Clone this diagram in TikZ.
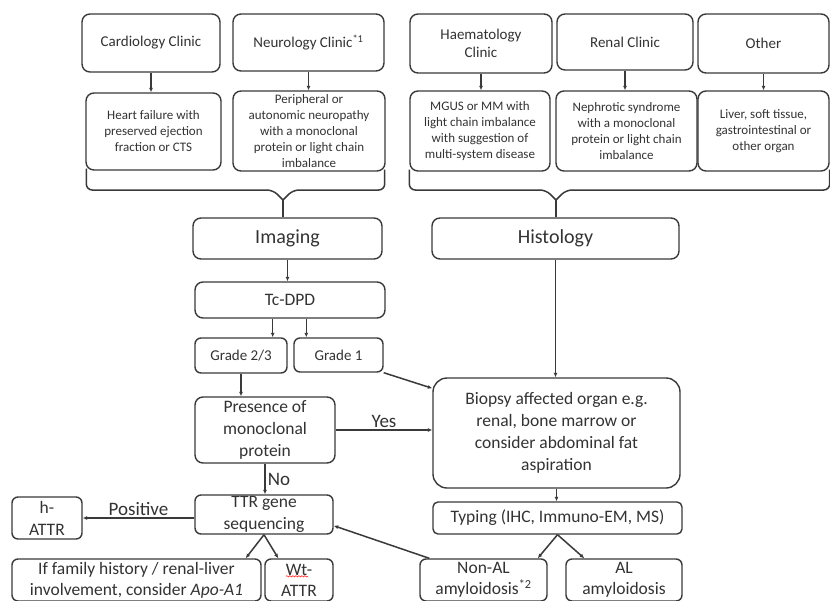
\documentclass[tikz,border=0pt]{standalone}
\usepackage{fontspec}
\setmainfont{Carlito}
\usetikzlibrary{arrows.meta,calc,decorations.pathmorphing}
\definecolor{ln}{HTML}{3A3A3A}
\definecolor{tx}{HTML}{333333}

\begin{document}
\begin{tikzpicture}[x=1pt,y=-1pt]
      \tikzstyle{box}=[draw=ln,line width=1.4pt,rounded corners=8pt,text=tx,align=center,inner sep=0pt]
      \tikzstyle{clinic}=[box,font=\fontsize{15}{18}\selectfont]
      \tikzstyle{cond}=[box,font=\fontsize{13}{16}\selectfont]
      \tikzstyle{big}=[box,font=\fontsize{20}{24}\selectfont]
      \tikzstyle{mid}=[box,font=\fontsize{17.5}{22}\selectfont]
      \tikzstyle{low}=[box,rounded corners=6pt,font=\fontsize{17.5}{21}\selectfont]
      \tikzstyle{grade}=[box,rounded corners=6pt,font=\fontsize{15}{18}\selectfont]
      \tikzstyle{lbl}=[text=tx,inner sep=2pt,font=\fontsize{19}{22}\selectfont]
      \tikzstyle{arr}=[draw=ln,line width=1.5pt,-{Latex[length=4.5pt,width=4pt]}]
      \tikzstyle{brace}=[draw=ln,line width=1.5pt,rounded corners=6pt]
      \useasboundingbox[fill=white] (0,0) rectangle (830,600);
      \clip (0,0) rectangle (830,600);
      \node[clinic,minimum width=138pt,minimum height=58pt] (card) at (151,43) {Cardiology Clinic};
      \node[clinic,minimum width=151pt,minimum height=57pt] (neuro) at (308.5,42.5) {Neurology Clinic\textsuperscript{*1}};
      \node[clinic,minimum width=142pt,minimum height=59pt] (haem) at (481,43.5) {Haematology\\Clinic};
      \node[clinic,minimum width=136pt,minimum height=56pt] (renal) at (625,42) {Renal Clinic};
      \node[clinic,minimum width=131pt,minimum height=59pt] (other) at (763.5,43.5) {Other};
      \node[cond,minimum width=135pt,minimum height=77pt] (hf) at (153.5,131.5) {Heart failure with\\preserved ejection\\fraction or CTS};
      \node[cond,minimum width=152pt,minimum height=80pt] (neuropathy) at (309,131) {Peripheral or\\autonomic neuropathy\\with a monoclonal\\protein or light chain\\imbalance};
      \node[cond,minimum width=140pt,minimum height=80pt] (mgus) at (480,131) {MGUS or MM with\\light chain imbalance\\with suggestion of\\multi-system disease};
      \node[cond,minimum width=141pt,minimum height=80pt] (nephro) at (626.5,131) {Nephrotic syndrome\\with a monoclonal\\protein or light chain\\imbalance};
      \node[cond,minimum width=131pt,minimum height=80pt] (organ) at (763.5,131) {Liver, soft tissue,\\gastrointestinal or\\other organ};
      \node[big,minimum width=189pt,minimum height=41pt] (imaging) at (287.5,238.5) {Imaging};
      \node[big,minimum width=247pt,minimum height=41pt] (histology) at (555.5,238.5) {Histology};
      \node[mid,minimum width=190pt,minimum height=36pt] (tcdpd) at (290,300) {Tc-DPD};
      \node[grade,minimum width=92pt,minimum height=35pt] (grade23) at (241,355.5) {Grade 2/3};
      \node[grade,minimum width=89pt,minimum height=34pt] (grade1) at (338.5,355) {Grade 1};
      \node[mid,minimum width=140pt,minimum height=66pt] (presence) at (265,430) {Presence of\\monoclonal\\protein};
      \node[mid,rounded corners=14pt,minimum width=247pt,minimum height=110pt] (biopsy) at (556.5,433) {Biopsy affected organ e.g.\\renal, bone marrow or\\consider abdominal fat\\aspiration};
      \node[mid,rounded corners=5pt,minimum width=249pt,minimum height=32pt] (typing) at (557.5,518) {Typing (IHC, Immuno-EM, MS)};
      \node[mid,rounded corners=6pt,minimum width=138pt,minimum height=39pt] (ttr) at (264,514.5) {TTR gene\\sequencing};
      \node[mid,rounded corners=6pt,minimum width=70pt,minimum height=42pt] (hattr) at (47,518) {h-\\ATTR};
      \node[low,minimum width=249pt,minimum height=42pt] (family) at (136.5,580) {If family history / renal-liver\\involvement, consider \textit{Apo-A1}};
      \node[low,minimum width=68pt,minimum height=42pt] (wtattr) at (299,580) {Wt-\\ATTR};
      \node[low,minimum width=127pt,minimum height=42pt] (nonal) at (483.5,580) {Non-AL\\amyloidosis\textsuperscript{*2}};
      \node[low,minimum width=116pt,minimum height=42pt] (al) at (624,580) {AL\\amyloidosis};
      \draw[arr] (card) -- (card |- hf.north);
      \draw[arr] (neuro) -- (neuro |- neuropathy.north);
      \draw[arr] (haem) -- (haem |- mgus.north);
      \draw[arr] (renal) -- (renal |- nephro.north);
      \draw[arr] (other) -- (other |- organ.north);
      \coordinate (ltip) at (283,200);
      \coordinate (rtip) at (556,200);
      \draw[brace] (ltip) -- ($(ltip)+(-10,-10)$) -| ($(hf.south west)+(1,-2)$);
      \draw[brace] (ltip) -- ($(ltip)+(10,-10)$) -| ($(neuropathy.south east)+(-1,-2)$);
      \draw[brace] (rtip) -- ($(rtip)+(-10,-10)$) -| ($(mgus.south west)+(0,-2)$);
      \draw[brace] (rtip) -- ($(rtip)+(10,-10)$) -| ($(organ.south east)+(0,-2)$);
      \draw[draw=ln,line width=1.5pt] (ltip) -- (ltip |- imaging.north);
      \draw[draw=ln,line width=1.5pt] (rtip) -- (rtip |- histology.north);
      \draw[arr] (imaging) -- (imaging |- tcdpd.north);
      \coordinate (g23in) at ($(grade23.north east)+(-15,0)$);
      \coordinate (g1in) at ($(grade1.north west)+(13,0)$);
      \draw[arr] (g23in |- tcdpd.south) -- (g23in);
      \draw[arr] (g1in |- tcdpd.south) -- (g1in);
      \draw[arr] (grade23) -- (grade23 |- presence.north);
      \draw[arr] (grade1.south east) -- ($(biopsy.north west)+(0,11)$);
      \draw[arr] (presence) -- (presence -| biopsy.west) node[lbl,midway,above] {Yes};
      \draw[arr] (histology) -- (histology |- biopsy.north);
      \draw[arr] (presence) -- (presence |- ttr.north) node[lbl,midway,right] {No};
      \draw[arr] (biopsy) -- (biopsy |- typing.north);
      \draw[arr] (typing.south) -- ($(nonal.north east)+(-10,0)$);
      \draw[arr] (typing.south) -- ($(al.north west)+(19,0)$);
      \draw[arr] ($(nonal.north west)+(10,0)$) -- ($(ttr.south east)+(0,-9)$);
      \draw[arr] (ttr.west |- hattr.east) -- (hattr.east) node[lbl,midway,above] {Positive};
      \draw[arr] (ttr.south) -- ($(family.north east)+(-16,0)$);
      \draw[arr] (ttr.south) -- ($(wtattr.north west)+(14,0)$);
      \draw[red,line width=0.5pt,decorate,decoration={snake,amplitude=0.7pt,segment length=3pt}] ($(wtattr.north)+(-13,18)$) -- ++(22,0);
\end{tikzpicture}
\end{document}
